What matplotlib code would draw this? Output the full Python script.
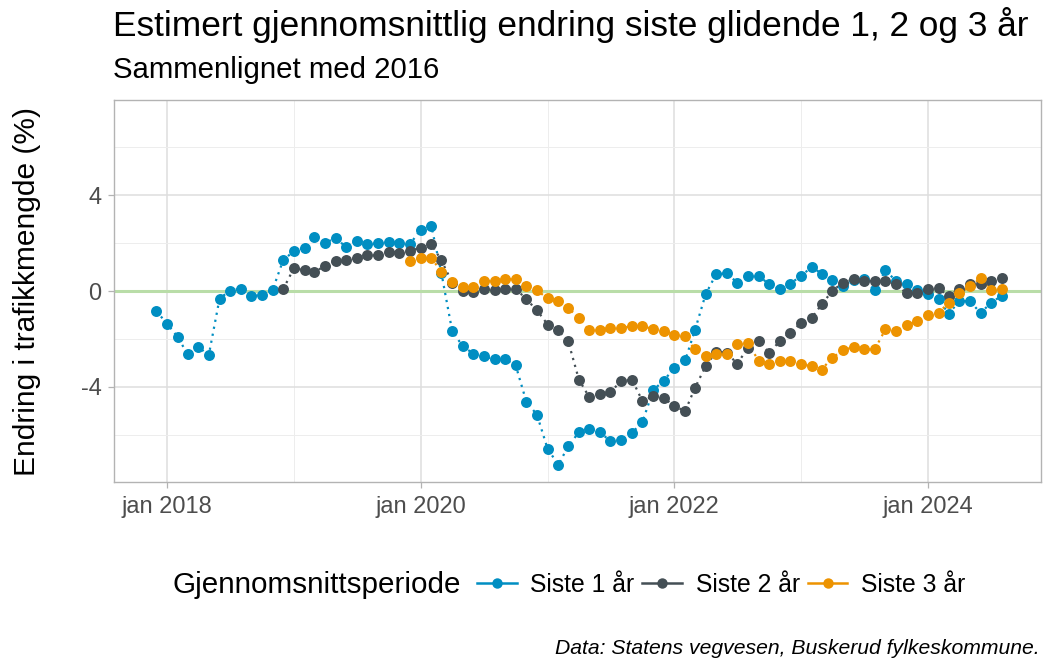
import matplotlib
matplotlib.use("Agg")
import matplotlib.pyplot as plt
import matplotlib.dates as mdates
from matplotlib.lines import Line2D
import numpy as np
import pandas as pd

plt.rcParams['font.family'] = ['Liberation Sans', 'DejaVu Sans']

# ---- data ----
start_1 = "2017-12-01"
siste_1 = [-0.84,
           -1.37, -1.93, -2.65, -2.34, -2.68, -0.32, 0.02, 0.09, -0.21, -0.17, 0.05, 1.28,
           1.67, 1.81, 2.26, 2.02, 2.20, 1.84, 2.09, 1.95, 1.99, 2.05, 1.99, 1.95,
           2.56, 2.72, 0.75, -1.67, -2.30, -2.62, -2.72, -2.86, -2.86, -3.11, -4.64, -5.16,
           -6.60, -7.26, -6.49, -5.90, -5.76, -5.90, -6.28, -6.23, -5.93, -5.47, -4.15, -3.74,
           -3.23, -2.90, -1.65, -0.14, 0.70, 0.74, 0.35, 0.63, 0.63, 0.28, 0.08, 0.31,
           0.63, 1.01, 0.72, 0.45, 0.20, 0.47, 0.50, 0.03, 0.87, 0.42, 0.28, 0.05,
           -0.14, -0.35, -0.95, -0.42, -0.42, -0.92, -0.49, -0.20]

start_2 = "2018-12-01"
siste_2 = [0.07,
           0.95, 0.87, 0.79, 1.05, 1.26, 1.28, 1.39, 1.49, 1.49, 1.64, 1.60, 1.67,
           1.81, 1.95, 1.28, 0.35, 0.00, -0.04, 0.07, 0.03, 0.10, 0.10, -0.35, -0.80,
           -1.40, -1.65, -2.09, -3.70, -4.44, -4.32, -4.21, -3.77, -3.70, -4.60, -4.39, -4.46,
           -4.81, -5.02, -4.06, -3.14, -2.54, -2.58, -3.04, -2.37, -2.09, -2.58, -2.09, -1.74,
           -1.33, -1.12, -0.56, 0.00, 0.35, 0.49, 0.42, 0.42, 0.42, 0.28, -0.10, -0.07,
           0.07, 0.11, -0.21, 0.10, 0.31, 0.28, 0.42, 0.56]

start_3 = "2019-12-01"
siste_3 = [1.26,
           1.37, 1.38, 0.80, 0.38, 0.17, 0.17, 0.42, 0.42, 0.49, 0.49, 0.21, 0.03,
           -0.31, -0.43, -0.70, -1.14, -1.65, -1.65, -1.53, -1.56, -1.46, -1.46, -1.60, -1.66,
           -1.82, -1.90, -2.44, -2.72, -2.65, -2.65, -2.23, -2.16, -2.93, -3.05, -2.93, -2.93,
           -3.07, -3.14, -3.28, -2.79, -2.48, -2.34, -2.44, -2.44, -1.60, -1.66, -1.41, -1.27,
           -1.01, -0.91, -0.49, -0.09, 0.19, 0.53, 0.03, 0.09]

series_names = ["Siste 1 år", "Siste 2 år", "Siste 3 år"]
series_colors = ["#008EC2", "#444F55", "#ED9300"]
series_values = [siste_1, siste_2, siste_3]
series_starts = [start_1, start_2, start_3]

x_tick_dates = ["2018-01-01", "2020-01-01", "2022-01-01", "2024-01-01"]
x_tick_labels = ["jan 2018", "jan 2020", "jan 2022", "jan 2024"]
x_minor_dates = ["2019-01-01", "2021-01-01", "2023-01-01"]
y_ticks = [-4, 0, 4]
y_minor = [-6, -2, 2, 6]

# ---- figure ----
W, H = 1045, 661
fig = plt.figure(figsize=(W / 100, H / 100), dpi=100)
ax = fig.add_axes([114 / W, 1 - 482 / H, (1041 - 114) / W, (482 - 100) / H])

ax.axhline(0, color="#B9DDA8", lw=2.2, zorder=1)

for name, col, vals, st in zip(series_names, series_colors, series_values, series_starts):
    dates = pd.date_range(st, periods=len(vals), freq="MS")
    ax.plot(dates, vals, linestyle=(0, (1, 2.2)), lw=1.6, color=col, zorder=2)
    ax.plot(dates, vals, linestyle="none", marker="o", ms=7.9, color=col,
            markeredgewidth=0, zorder=3)

ax.set_xlim(mdates.date2num(pd.Timestamp("2017-08-01")),
            mdates.date2num(pd.Timestamp("2024-11-22")))
ax.set_ylim(-7.98, 7.98)

ax.set_xticks([mdates.date2num(pd.Timestamp(d)) for d in x_tick_dates])
ax.set_xticklabels(x_tick_labels)
ax.set_xticks([mdates.date2num(pd.Timestamp(d)) for d in x_minor_dates], minor=True)
ax.set_yticks(y_ticks)
ax.set_yticklabels([str(v) for v in y_ticks])
ax.set_yticks(y_minor, minor=True)

ax.grid(which="major", color="#DEDEDE", lw=1.1, zorder=0)
ax.grid(which="minor", color="#EDEDED", lw=0.7, zorder=0)
ax.set_axisbelow(True)

for sp in ax.spines.values():
    sp.set_color("#B3B3B3")
    sp.set_linewidth(1.0)

ax.tick_params(which="major", length=4, width=0.9, color="#B3B3B3",
               labelsize=17, labelcolor="#4D4D4D", pad=5)
ax.tick_params(axis="x", which="major", pad=6)
ax.tick_params(which="minor", length=0)

ax.set_ylabel("Endring i trafikkmengde (%)", fontsize=21.5, color="black")
ax.yaxis.set_label_coords(-0.079, 0.5)

fig.text(113 / W, 1 - 25 / H, "Estimert gjennomsnittlig endring siste glidende 1, 2 og 3 år",
         fontsize=25.4, ha="left", va="center")
fig.text(113 / W, 1 - 70 / H, "Sammenlignet med 2016",
         fontsize=21.2, ha="left", va="center")

fig.text(1040 / W, 1 - 648 / H, "Data: Statens vegvesen, Buskerud fylkeskommune.",
         fontsize=15.2, style="italic", ha="right", va="center")

fig.text(173 / W, 1 - 585 / H, "Gjennomsnittsperiode", fontsize=21.3,
         ha="left", va="center")
handles = [Line2D([0], [0], color=c, lw=1.8, marker="o", ms=7.5, markeredgewidth=0)
           for c in series_colors]
leg = fig.legend(handles, series_names, loc="center left",
                 bbox_to_anchor=(477 / W, 1 - 585 / H), ncol=3, frameon=False,
                 fontsize=17.8, handlelength=1.6, handletextpad=0.55,
                 columnspacing=0.33, borderaxespad=0, borderpad=0)

fig.savefig("out.png", dpi=100)
